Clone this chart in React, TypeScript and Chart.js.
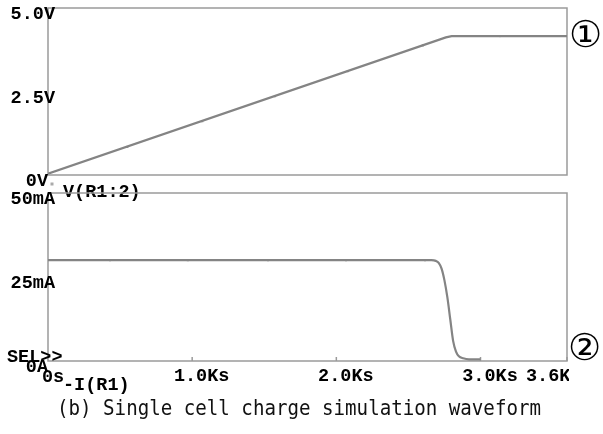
import React, { useEffect, useRef } from "react";
import { Chart, registerables } from "chart.js";

Chart.register(...registerables);

// Voltage trace V(R1:2): time in Ks, volts
const timeV = [0, 2.76, 2.8, 3.6];
const voltV = [0.04, 4.12, 4.16, 4.16];
// PSpice trace markers on V(R1:2)
const markTimeV = [0.55, 1.07, 1.575, 2.08, 2.6, 3.135];
const markVoltV = [0.84, 1.61, 2.36, 3.11, 3.88, 4.16];

// Current trace -I(R1): time in Ks, mA
const timeI = [0, 2.66, 2.69, 2.71, 2.73, 2.75, 2.77, 2.79, 2.81, 2.83, 2.85, 2.88, 2.92, 3.0];
const currI = [30, 30, 29.8, 29.2, 27.5, 24, 19, 12.5, 6, 2.8, 1.4, 0.8, 0.5, 0.5];
const markTimeI = [0.43, 0.97, 1.526, 2.067, 2.615];
const markCurrI = [30, 30, 30, 30, 30];

// Axis ticks
const xTicks = [0, 1, 2, 3, 3.6];
const xTickLabels = ["0s", "1.0Ks", "2.0Ks", "3.0Ks", "3.6Ks"];
const vTicks = [0, 2.5, 5];
const vTickLabels = ["0V", "2.5V", "5.0V"];
const iTicks = [0, 25, 50];
const iTickLabels = ["0A", "25mA", "50mA"];

const traceV = "V(R1:2)";
const traceI = "-I(R1)";
const selLabel = "SEL>>";
const caption = "(b) Single cell charge simulation waveform";

const TRACE = "#848484";
const FRAME = "#9a9a9a";
const FONT = 'bold 18.5px "Liberation Mono", "Courier New", monospace';

function pts(xs: number[], ys: number[]) {
  return xs.map((x, i) => ({ x, y: ys[i] }));
}

function drawYLabels(chart: any, ticks: number[], labels: string[]) {
  const { ctx, scales } = chart;
  ctx.save();
  ctx.font = FONT;
  ctx.fillStyle = "#000";
  ctx.textBaseline = "middle";
  ctx.textAlign = "right";
  ticks.forEach((v, i) => {
    const py = scales.y.getPixelForValue(v);
    const px = v === 0 ? 48 : 55;
    ctx.fillText(labels[i], px, py + 6.5);
  });
  ctx.restore();
}

function frame(chart: any) {
  const { ctx, chartArea: a } = chart;
  ctx.save();
  ctx.strokeStyle = FRAME;
  ctx.lineWidth = 1.5;
  ctx.strokeRect(a.left, a.top, a.right - a.left, a.bottom - a.top);
  ctx.restore();
}

const topPlugin = {
  id: "topDeco",
  beforeDatasetsDraw(chart: any) {
    frame(chart);
  },
  afterDraw(chart: any) {
    const { ctx } = chart;
    drawYLabels(chart, vTicks, vTickLabels);
    ctx.save();
    ctx.fillStyle = "#aaa";
    ctx.fillRect(50.5, 182.5, 3, 3);
    ctx.font = FONT;
    ctx.fillStyle = "#000";
    ctx.textBaseline = "middle";
    ctx.textAlign = "left";
    ctx.fillText(traceV, 63, 192);
    ctx.restore();
  },
};

const bottomPlugin = {
  id: "bottomDeco",
  beforeDatasetsDraw(chart: any) {
    frame(chart);
    const { ctx, chartArea: a, scales } = chart;
    ctx.save();
    ctx.strokeStyle = FRAME;
    ctx.lineWidth = 1.5;
    xTicks.forEach((t) => {
      if (t === 0) return;
      const px = scales.x.getPixelForValue(t);
      ctx.beginPath();
      ctx.moveTo(px, a.bottom);
      ctx.lineTo(px, a.bottom - 4);
      ctx.stroke();
    });
    ctx.restore();
  },
  afterDraw(chart: any) {
    const { ctx, chartArea: a, scales } = chart;
    drawYLabels(chart, iTicks, iTickLabels);
    ctx.save();
    ctx.font = FONT;
    ctx.fillStyle = "#000";
    ctx.textBaseline = "middle";
    xTicks.forEach((t, i) => {
      const px = scales.x.getPixelForValue(t);
      if (i === 0) {
        ctx.textAlign = "left";
        ctx.fillText(xTickLabels[i], px - 6, 377);
      } else if (i === xTicks.length - 1) {
        ctx.save();
        ctx.beginPath();
        ctx.rect(0, 0, a.right + 2, 434);
        ctx.clip();
        ctx.textAlign = "left";
        ctx.fillText(xTickLabels[i], px - 41, 376.5);
        ctx.restore();
      } else {
        ctx.textAlign = "center";
        ctx.fillText(xTickLabels[i], px + 9.5, 376.5);
      }
    });
    ctx.textAlign = "left";
    ctx.fillText(selLabel, 7, 357);
    ctx.fillText(traceI, 63, 385);
    ctx.restore();
  },
};

function makeOptions(ymin: number, ymax: number, padTop: number, padBottom: number) {
  return {
    responsive: false,
    animation: false as const,
    events: [],
    layout: { padding: { left: 48, right: 36, top: padTop, bottom: padBottom } },
    plugins: { legend: { display: false }, tooltip: { enabled: false } },
    scales: {
      x: { type: "linear" as const, min: 0, max: 3.6, display: false },
      y: { type: "linear" as const, min: ymin, max: ymax, display: false },
    },
  };
}

export default function App() {
  const refA = useRef<HTMLCanvasElement>(null);
  const refB = useRef<HTMLCanvasElement>(null);

  useEffect(() => {
    const a = new Chart(refA.current!, {
      type: "line",
      data: {
        datasets: [
          {
            data: pts(timeV, voltV),
            borderColor: TRACE,
            borderWidth: 2.2,
            pointRadius: 0,
            tension: 0,
          },
          {
            data: pts(markTimeV, markVoltV),
            showLine: false,
            pointStyle: "rect",
            pointRadius: 1.5,
            backgroundColor: "#9a9a9a",
            borderColor: "#9a9a9a",
            borderWidth: 0,
          },
        ],
      },
      options: makeOptions(0, 5, 8, 434 - 175),
      plugins: [topPlugin],
    } as any);
    const b = new Chart(refB.current!, {
      type: "line",
      data: {
        datasets: [
          {
            data: pts(timeI, currI),
            borderColor: TRACE,
            borderWidth: 2.2,
            pointRadius: 0,
            cubicInterpolationMode: "monotone",
          },
          {
            data: pts(markTimeI, markCurrI),
            showLine: false,
            pointStyle: "rect",
            pointRadius: 1.5,
            backgroundColor: "#9a9a9a",
            borderColor: "#9a9a9a",
            borderWidth: 0,
          },
        ],
      },
      options: makeOptions(0, 50, 193, 434 - 361),
      plugins: [bottomPlugin],
    } as any);
    return () => {
      a.destroy();
      b.destroy();
    };
  }, []);

  const canvasStyle: React.CSSProperties = { position: "absolute", left: 0, top: 0 };
  const circled: React.CSSProperties = {
    position: "absolute",
    fontFamily: '"DejaVu Sans", sans-serif',
    fontSize: 37,
    lineHeight: "37px",
    color: "#000",
  };

  return (
    <div style={{ position: "absolute", left: 0, top: 0, width: 603, height: 434, background: "#fff", overflow: "hidden" }}>
      <canvas ref={refA} width={603} height={434} style={canvasStyle} />
      <canvas ref={refB} width={603} height={434} style={canvasStyle} />
      <div style={{ ...circled, left: 569, top: 16 }}>①</div>
      <div style={{ ...circled, left: 568, top: 329 }}>②</div>
      <div
        style={{
          position: "absolute",
          left: 57,
          top: 394,
          fontFamily: '"DejaVu Sans Mono", monospace',
          fontSize: 22,
          lineHeight: "28px",
          color: "#111",
          whiteSpace: "nowrap",
          transform: "scaleX(0.87)",
          transformOrigin: "0 0",
        }}
      >
        {caption}
      </div>
    </div>
  );
}
